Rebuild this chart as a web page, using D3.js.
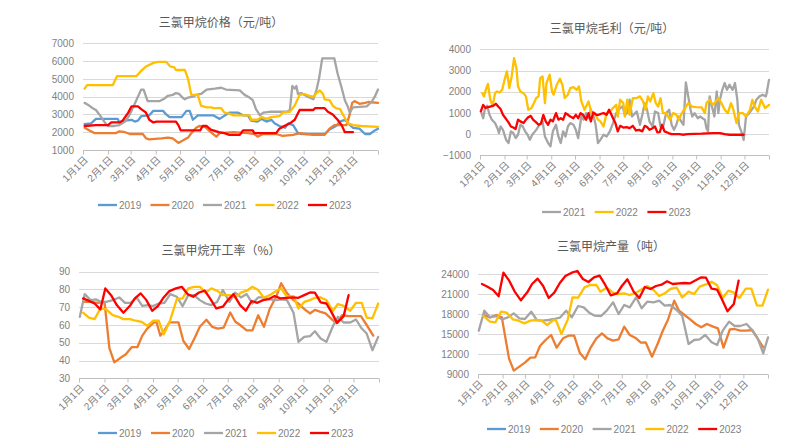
<!DOCTYPE html>
<html><head><meta charset="utf-8">
<script src="https://cdn.jsdelivr.net/npm/d3@7"></script>
<style>body{margin:0;background:#fff}svg{display:block}</style>
</head><body><svg id="c" width="805" height="438"></svg>
<script>
// ---------- categories / ticks ----------
const monthLabels = ['1月1日','2月1日','3月1日','4月1日','5月1日','6月1日','7月1日','8月1日','9月1日','10月1日','11月1日','12月1日'];
const monthStarts = [0,31,59,90,120,151,181,212,243,273,304,334];
const years = ['2019','2020','2021','2022','2023'];
const yearColors = ['#5B9BD5','#ED7D31','#A5A5A5','#FFC000','#FF0000'];

const priceTicks = [1000,2000,3000,4000,5000,6000,7000];
const marginTicks = [-1000,0,1000,2000,3000,4000];
const rateTicks = [30,40,50,60,70,80,90];
const prodTicks = [9000,12000,15000,18000,21000,24000];

// ---------- price (元/吨), [day of year, value] ----------
const price2019 = [[2,2450],[10,2500],[16,2750],[43,2750],[45,2550],[52,2650],[60,2700],[64,2600],[68,2650],[72,2900],[82,2950],[87,3200],[99,3200],[103,3000],[107,2850],[122,2850],[128,3200],[132,3200],[136,2700],[142,2950],[161,2950],[169,2750],[181,3100],[192,3100],[198,2950],[204,2950],[208,2650],[216,2600],[221,2750],[227,2600],[233,2700],[237,2500],[243,2350],[250,2250],[254,2500],[260,2400],[266,1950],[270,1900],[299,1900],[305,2150],[313,2350],[318,2600],[324,2700],[328,2500],[334,2250],[342,2200],[349,1900],[355,1900],[361,2100],[365,2200]];
const price2020 = [[2,2250],[8,2100],[14,1950],[41,1950],[45,2050],[52,2000],[58,1900],[74,1900],[78,1650],[82,1600],[97,1650],[105,1700],[111,1650],[118,1400],[124,1550],[130,1700],[134,1950],[140,2250],[144,2350],[151,2300],[157,2050],[165,1750],[169,1950],[186,2000],[204,1950],[212,1900],[216,1750],[223,1900],[239,1900],[247,1800],[260,1850],[268,1950],[276,1900],[285,1850],[299,1850],[305,2200],[311,2400],[326,2400],[330,3000],[333,3650],[336,3750],[342,3600],[349,3650],[353,3700],[365,3650]];
const price2021 = [[2,3650],[6,3550],[12,3350],[16,3250],[21,2950],[27,2550],[31,2350],[39,2350],[45,2400],[52,2600],[56,2850],[60,3200],[66,3800],[72,4400],[75,4400],[80,3750],[95,3750],[101,3900],[105,4050],[111,4100],[115,4200],[119,4150],[123,3950],[126,3850],[130,3950],[136,4000],[140,4100],[146,4150],[153,4400],[163,4450],[171,4500],[177,4400],[194,4350],[200,4100],[206,3950],[210,3800],[214,3300],[219,2950],[223,3100],[231,3150],[252,3150],[256,3250],[259,4600],[262,4450],[264,4600],[266,4150],[270,4200],[278,4000],[285,3850],[289,4400],[292,5000],[296,6150],[311,6150],[315,5300],[320,4500],[324,3800],[328,3400],[330,3100],[334,3400],[351,3450],[357,3700],[361,4000],[365,4400]];
const price2022 = [[2,4450],[5,4650],[37,4650],[42,5150],[66,5150],[72,5450],[78,5700],[87,5900],[93,5950],[103,5950],[108,5700],[113,5650],[115,5500],[126,5500],[130,5000],[134,4100],[142,4100],[146,3500],[153,3400],[159,3400],[161,3350],[171,3350],[175,3100],[181,3050],[186,2950],[206,2950],[208,2700],[216,2700],[221,2850],[227,2750],[233,2850],[243,2900],[247,3100],[256,3150],[262,3500],[268,4100],[274,4150],[280,4050],[285,4000],[289,4200],[293,4350],[297,4150],[299,3850],[305,3800],[309,3500],[313,3350],[318,3300],[324,2800],[328,2500],[334,2400],[344,2350],[365,2300]];
const price2023 = [[2,2350],[16,2400],[31,2400],[35,2550],[45,2550],[49,2650],[56,3100],[60,3450],[68,3450],[72,3300],[78,3100],[82,2700],[87,2550],[91,2600],[115,2600],[118,2400],[121,2100],[145,2100],[148,2350],[153,2350],[158,2150],[168,2000],[175,1950],[181,1850],[194,1850],[198,2100],[210,2100],[212,1950],[239,1950],[243,2200],[247,2300],[256,2500],[262,2700],[268,3250],[285,3250],[287,3350],[299,3350],[303,3150],[309,3000],[315,2700],[320,2400],[324,2000],[334,2000]];

// ---------- margin (元/吨) ----------
const margin2021 = [[2,990],[4,750],[6,1150],[9,1340],[12,910],[15,680],[19,520],[22,280],[24,50],[26,360],[29,200],[33,-270],[36,-420],[39,130],[42,50],[45,-190],[48,-30],[51,440],[54,360],[57,130],[60,-30],[63,-270],[66,-30],[71,200],[75,440],[79,600],[82,-110],[86,-420],[89,-580],[92,130],[96,440],[99,-110],[102,-420],[105,130],[108,-110],[111,360],[114,520],[118,440],[121,200],[124,-190],[128,830],[131,680],[134,990],[137,750],[140,1150],[143,910],[146,440],[149,-420],[152,-270],[156,-30],[160,-110],[164,130],[168,520],[172,990],[177,1230],[180,1300],[183,910],[186,990],[189,1620],[192,830],[196,990],[198,1070],[202,440],[205,910],[208,1460],[211,1150],[214,600],[218,360],[221,1070],[225,990],[228,360],[231,280],[235,990],[239,1150],[242,440],[245,200],[248,440],[251,830],[254,600],[257,440],[260,2440],[263,1780],[266,1150],[268,830],[271,990],[275,750],[278,830],[281,750],[284,680],[286,280],[288,130],[290,1780],[293,1300],[296,830],[299,2010],[301,990],[303,1620],[306,2090],[309,2410],[312,2090],[315,2330],[319,2090],[322,2410],[325,1620],[327,440],[330,130],[333,-270],[336,830],[340,990],[343,1150],[346,1300],[349,1620],[353,1780],[357,1860],[361,1780],[362,1930],[365,2560]];
const margin2022 = [[3,1930],[5,1780],[8,2170],[10,2370],[13,1620],[16,1340],[19,1930],[21,2010],[25,1970],[28,2090],[31,2560],[34,2960],[37,2170],[40,2720],[43,3580],[46,3110],[48,2250],[51,2010],[55,1930],[58,1780],[61,1150],[65,1230],[68,1460],[71,1700],[74,1780],[76,2640],[79,2720],[82,1460],[84,2410],[88,2800],[91,2010],[93,1860],[97,2330],[101,2610],[104,2330],[107,1700],[111,1860],[114,2170],[118,2220],[122,2090],[125,2250],[128,1540],[132,1150],[137,1540],[141,990],[145,990],[149,680],[152,600],[156,360],[160,990],[164,1070],[168,1230],[172,1380],[174,830],[177,1620],[181,1460],[183,830],[186,1620],[189,910],[193,1700],[198,1700],[202,1780],[206,1540],[209,1150],[212,1780],[215,1540],[219,1930],[222,1460],[225,1300],[228,1700],[231,990],[235,990],[240,680],[244,990],[248,910],[251,680],[255,990],[259,1230],[263,1460],[268,1300],[273,1270],[280,1260],[284,990],[286,1460],[290,1620],[294,1380],[298,1540],[301,1700],[305,1460],[309,1150],[313,990],[317,1460],[320,1150],[324,520],[327,990],[332,990],[336,830],[341,1150],[344,1620],[347,1300],[351,1070],[355,1620],[360,1230],[365,1380]];
const margin2023 = [[1,1070],[4,1380],[7,1230],[10,1270],[13,1300],[17,1340],[20,1430],[23,1300],[26,1180],[29,910],[33,710],[36,550],[39,360],[42,310],[45,240],[48,680],[51,600],[55,520],[58,680],[61,800],[64,860],[67,680],[71,550],[74,440],[77,490],[80,910],[83,600],[86,440],[89,680],[92,600],[96,990],[99,680],[102,750],[105,680],[108,990],[111,910],[114,830],[118,750],[121,910],[124,750],[127,990],[130,910],[134,680],[137,990],[140,600],[143,1020],[147,910],[150,910],[153,960],[156,990],[160,910],[163,1150],[166,910],[168,750],[171,520],[174,130],[177,390],[181,310],[185,330],[189,280],[193,390],[197,170],[201,200],[205,130],[208,390],[211,330],[214,200],[218,280],[221,360],[224,80],[227,90],[230,440],[233,130],[238,50],[242,0],[252,0],[256,-30],[262,0],[280,20],[294,50],[303,50],[309,0],[315,-30],[333,-30]];

// ---------- operating rate (%) ----------
const rate2019 = [];
const rate2020 = [[7,73],[15,73],[23,72.5],[31,73],[37,47],[43,39],[52,42],[57,43.5],[64,47.5],[71,47.5],[77,54],[83,58],[90,61],[94,62],[99,54],[104,57],[110,61.5],[121,61.5],[127,51],[134,46.5],[141,53],[147,59],[155,63],[162,59],[169,58],[176,58.5],[184,67],[190,62],[196,60],[204,57],[211,57],[218,65.5],[225,59],[232,69],[240,76],[246,83.5],[253,78],[261,74],[267,72],[274,69],[281,66.5],[287,68.5],[293,67.5],[300,66.5],[307,63.5],[313,61],[320,65.5],[328,65],[335,65],[343,65],[350,60],[358,54]];
const rate2021 = [[1,64.6],[7,77.4],[14,74],[21,74.4],[27,73],[33,73],[41,74],[49,75.5],[56,72.5],[63,72.5],[70,75.5],[77,70.8],[84,71.2],[90,70.6],[97,72.1],[104,72.5],[111,77.4],[119,75.9],[126,70.6],[133,76.8],[140,76.8],[147,74],[154,72.1],[161,71.2],[168,73],[175,79.7],[183,73],[190,78.2],[197,75.5],[204,77.4],[211,72.1],[218,75.5],[225,75.5],[232,74.4],[240,74],[246,74.4],[253,74],[261,66.9],[267,50.5],[274,53.3],[281,53.7],[287,56.5],[294,52.4],[301,50.5],[309,59.4],[315,64.6],[322,61.4],[330,61.4],[337,63.1],[344,58],[350,55.2],[357,45.8],[364,53.3]];
const rate2022 = [[5,66.9],[12,64.1],[19,63.3],[26,69.3],[33,68.8],[41,65.6],[48,64.6],[54,63.3],[62,63.3],[69,62.4],[76,61.8],[83,59.5],[90,62.4],[97,62.4],[103,54.7],[111,62.7],[119,74.6],[126,75],[133,80.6],[140,81.5],[147,81.5],[154,78.2],[161,80.6],[168,79.3],[175,76.8],[183,76.8],[190,75.5],[197,78.2],[204,79.3],[211,81.5],[218,79.7],[225,75.3],[232,76.8],[240,79.1],[246,80.6],[253,75.9],[261,76.3],[267,69.3],[274,73],[281,74],[287,75.3],[294,75.5],[301,74],[309,68],[315,71.8],[322,70.8],[330,68],[337,72.5],[344,72.5],[350,64.2],[357,63.7],[364,72.1]];
const rate2023 = [[5,75],[12,73.6],[19,72.1],[26,68.8],[32,80.6],[39,76.8],[46,71.2],[54,66.9],[62,70.8],[68,75],[75,77.8],[82,74],[89,68],[96,70.6],[103,75.5],[110,79.1],[118,80.6],[125,81.5],[132,77.4],[139,75.9],[146,78.3],[153,79.3],[160,74.6],[167,69.3],[175,70.3],[181,74],[188,77.4],[196,71.2],[203,68],[210,73.5],[217,72.5],[224,74],[231,74.6],[238,76.3],[245,75],[253,75.3],[260,75.5],[267,75.3],[274,76.8],[281,78.3],[287,78.2],[294,72.7],[301,72.1],[307,67.4],[314,61.2],[322,65],[328,76.8]];

// ---------- production (吨) ----------
const prod2019 = [];
const prod2020 = [[7,17850],[15,17500],[23,17850],[30,17500],[39,11350],[45,9500],[52,10100],[59,10700],[66,11450],[72,11500],[78,13200],[85,14100],[92,14850],[99,12950],[107,14350],[114,14750],[121,14750],[128,12200],[135,11200],[142,13000],[149,14350],[156,15100],[163,14350],[170,14000],[177,14200],[184,16100],[191,14850],[199,14350],[205,13700],[211,13750],[219,11600],[226,13500],[233,15600],[239,17100],[247,20000],[253,18500],[260,17850],[267,17200],[274,16500],[281,16000],[288,16500],[296,16100],[302,15850],[309,12950],[317,15700],[323,15750],[330,15500],[338,15500],[345,15600],[351,14500],[359,13000]];
const prod2021 = [[1,15500],[8,18500],[15,17500],[23,17700],[30,17200],[37,17450],[45,18100],[52,17350],[59,17250],[67,18350],[74,17100],[81,17000],[89,17100],[96,17250],[103,17450],[111,18500],[118,17500],[126,19200],[133,19000],[140,18200],[147,17750],[155,17700],[162,18500],[170,19750],[177,18000],[184,19350],[191,19000],[199,20500],[206,18850],[213,19850],[221,19750],[228,20000],[235,19250],[242,19350],[250,18600],[257,17750],[265,13500],[272,14100],[279,14200],[286,14850],[294,13750],[301,13350],[308,15500],[316,16850],[323,16200],[330,16200],[338,16500],[345,15600],[352,14350],[359,12100],[365,14500]];
const prod2022 = [[7,17700],[15,16850],[22,16750],[29,18350],[36,18200],[44,17200],[51,17000],[58,16600],[66,17000],[73,17100],[80,17000],[87,16350],[95,17100],[98,17100],[105,15000],[113,17200],[119,20500],[126,20450],[134,22000],[141,22350],[149,22350],[154,21350],[162,21950],[170,21200],[177,21000],[184,21100],[191,20850],[199,21200],[206,21700],[213,22200],[221,21600],[228,20700],[235,21100],[242,21750],[250,21950],[257,20500],[265,21350],[272,21000],[279,22100],[286,22400],[294,22850],[301,22300],[308,20400],[315,21500],[322,21200],[329,20400],[337,21800],[344,21800],[351,19300],[358,19250],[365,21650]];
const prod2023 = [[5,22500],[12,22100],[19,21600],[26,20650],[32,24200],[39,23050],[46,21400],[54,20050],[62,21250],[68,22500],[75,23300],[82,22200],[89,20400],[96,21200],[103,22650],[110,23700],[118,24200],[125,24450],[132,23250],[139,22800],[146,23500],[153,23750],[160,22400],[167,20800],[175,21100],[181,22200],[188,23200],[196,21350],[203,20400],[210,22050],[217,21750],[224,22200],[231,22400],[238,22900],[245,22500],[253,22600],[260,22650],[267,22600],[274,23050],[281,23500],[287,23450],[294,21800],[301,21650],[307,20200],[314,18400],[322,19500],[328,23000]];

// ---------- drawing ----------
const svg = d3.select('#c');
const FONT = '"Liberation Sans", Arial, "Noto Sans CJK SC", sans-serif';
const CJK = '"Noto Sans CJK SC", "Liberation Sans", sans-serif';
const gridColor = '#d9d9d9';
const tickColor = '#7f7f7f';

function panel(cfg) {
  const g = svg.append('g');
  const x = d3.scaleLinear().domain([0, 365]).range([cfg.left, cfg.right]);
  const y = d3.scaleLinear().domain(cfg.yDomain).range([cfg.bottom, cfg.top]);

  // gridlines
  g.append('g').selectAll('line').data(cfg.yTicks).join('line')
    .attr('x1', cfg.left).attr('x2', cfg.right)
    .attr('y1', d => Math.round(y(d)) + 0.5).attr('y2', d => Math.round(y(d)) + 0.5)
    .attr('stroke', gridColor).attr('stroke-width', 1);

  // y axis labels
  const ya = d3.axisLeft(y).tickValues(cfg.yTicks).tickSize(0).tickPadding(9)
    .tickFormat(d => d < 0 ? '\u2212' + Math.abs(d) : String(d));
  const yg = g.append('g').attr('transform', `translate(${cfg.left},0)`).call(ya);
  yg.select('.domain').remove();
  yg.selectAll('text').attr('fill', tickColor).style('font-family', FONT).style('font-size', '10px');

  // x axis
  const xa = d3.axisBottom(x).tickValues(monthStarts.concat([365])).tickSize(4).tickFormat('');
  const xg = g.append('g').attr('transform', `translate(0,${Math.round(cfg.bottom) + 0.5})`).call(xa);
  xg.select('.domain').attr('stroke', '#bfbfbf').attr('d', `M${cfg.left},0H${cfg.right}`);
  xg.selectAll('.tick line').attr('stroke', '#bfbfbf');
  g.append('g').selectAll('text').data(monthStarts).join('text')
    .attr('transform', (d, i) => `translate(${x(d) + 3},${cfg.bottom + 8}) rotate(-45)`)
    .attr('text-anchor', 'end').attr('dy', '0.35em')
    .attr('fill', tickColor).style('font-family', FONT).style('font-size', '10px')
    .text((d, i) => monthLabels[i]);

  // lines
  const line = d3.line().x(d => x(d[0])).y(d => y(d[1]));
  cfg.series.forEach(s => {
    if (!s.data.length) return;
    g.append('path').datum(s.data).attr('d', line)
      .attr('fill', 'none').attr('stroke', s.color).attr('stroke-width', 2.3)
      .attr('stroke-linejoin', 'round').attr('stroke-linecap', 'round');
  });

  // title
  g.append('text').attr('x', cfg.titleX).attr('y', cfg.titleY).attr('text-anchor', 'middle')
    .attr('fill', '#595959').style('font-family', CJK).style('font-size', '12px').text(cfg.title);

  // legend
  cfg.series.forEach((s, i) => {
    const lx = cfg.legendX + i * cfg.legendStep;
    g.append('line').attr('x1', lx).attr('x2', lx + 19)
      .attr('y1', cfg.legendY).attr('y2', cfg.legendY)
      .attr('stroke', s.color).attr('stroke-width', 2.3);
    g.append('text').attr('x', lx + 21).attr('y', cfg.legendY).attr('dy', '0.35em')
      .attr('fill', tickColor).style('font-family', FONT).style('font-size', '10px').text(s.name);
  });
}

function mk(names, datas) {
  return names.map((n, i) => ({ name: n, color: yearColors[years.indexOf(n)], data: datas[i] }));
}

panel({ left: 83, right: 378, top: 43.3, bottom: 150, yDomain: [1000, 7000], yTicks: priceTicks,
  title: '三氯甲烷价格（元/吨）', titleX: 221, titleY: 27, legendX: 98, legendY: 205, legendStep: 52.5,
  series: mk(years, [price2019, price2020, price2021, price2022, price2023]) });

panel({ left: 480, right: 769, top: 49.3, bottom: 155.3, yDomain: [-1000, 4000], yTicks: marginTicks,
  title: '三氯甲烷毛利（元/吨）', titleX: 612, titleY: 33, legendX: 542, legendY: 212, legendStep: 52.7,
  series: mk(['2021', '2022', '2023'], [margin2021, margin2022, margin2023]) });

panel({ left: 79, right: 379, top: 271.7, bottom: 378.3, yDomain: [30, 90], yTicks: rateTicks,
  title: '三氯甲烷开工率（%）', titleX: 221, titleY: 255, legendX: 98, legendY: 433, legendStep: 53,
  series: mk(years, [rate2019, rate2020, rate2021, rate2022, rate2023]) });

panel({ left: 478, right: 768, top: 274, bottom: 374, yDomain: [9000, 24000], yTicks: prodTicks,
  title: '三氯甲烷产量（吨）', titleX: 611, titleY: 251, legendX: 487, legendY: 429, legendStep: 52.8,
  series: mk(years, [prod2019, prod2020, prod2021, prod2022, prod2023]) });
</script></body></html>
